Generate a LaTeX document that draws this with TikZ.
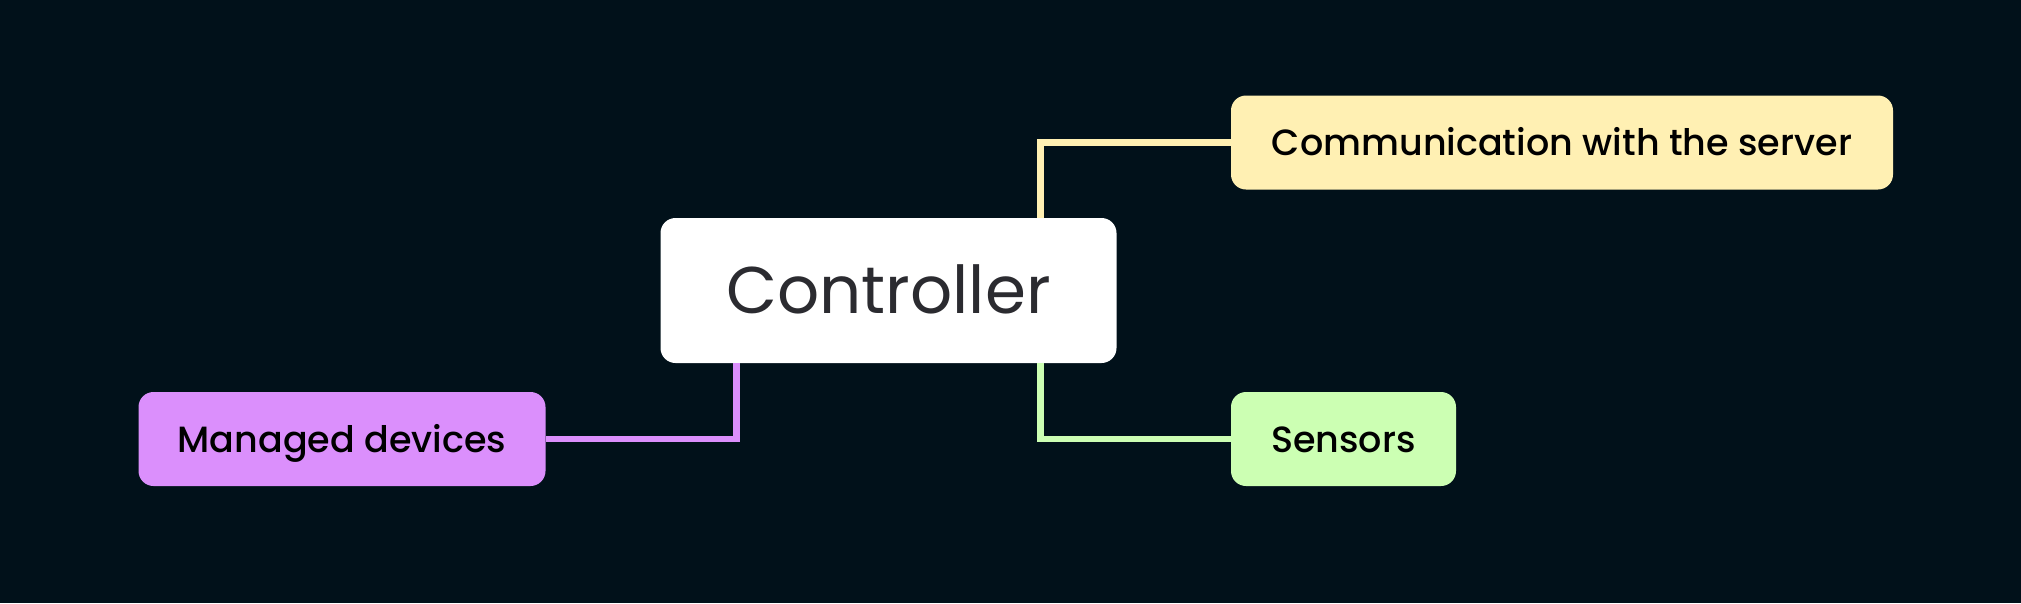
\documentclass[tikz,border=0pt]{standalone}
\usepackage{fontspec}
\setmainfont{Poppins}
\newfontfamily\labelfont{Poppins}[UprightFont=* Medium]
\usetikzlibrary{positioning}
\definecolor{bgnavy}{HTML}{01111A}
\definecolor{ctrlink}{HTML}{2B2B30}
\definecolor{commyellow}{HTML}{FFF0B3}
\definecolor{devpurple}{HTML}{DB8FFC}
\definecolor{sensgreen}{HTML}{CCFFB3}
\tikzset{
  leaf/.style={rounded corners=15pt, minimum height=94pt, inner sep=0pt, text=black,
    font=\labelfont\fontsize{36.5}{40}\selectfont, text height=26pt, text depth=0pt},
  hub/.style={rounded corners=15pt, fill=white, minimum width=456pt, minimum height=145pt,
    inner sep=0pt, text=ctrlink, font=\fontsize{66}{72}\selectfont, text height=46pt, text depth=0pt},
  link/.style={line width=6.5pt}
}
\begin{document}
\begin{tikzpicture}[x=1pt,y=-1pt]
  \fill[bgnavy] (0,0) rectangle (2021,603);
  % boxes
  \node[hub] (ctrl) at (888.5,290.5) {Controller};
  \node[leaf, fill=commyellow, minimum width=662pt] (comm) at (1562,142.5) {Communication with the server};
  \node[leaf, fill=devpurple, minimum width=407pt] (devs) at (342,439) {Managed devices};
  \node[leaf, fill=sensgreen, minimum width=225pt] (sens) at (1343.5,439) {Sensors};
  % links
  \draw[link, commyellow] ([xshift=152pt]ctrl.north) |- (comm.west);
  \draw[link, sensgreen] ([xshift=152pt]ctrl.south) |- (sens.west);
  \draw[link, devpurple] ([xshift=-152pt]ctrl.south) |- (devs.east);
\end{tikzpicture}
\end{document}
